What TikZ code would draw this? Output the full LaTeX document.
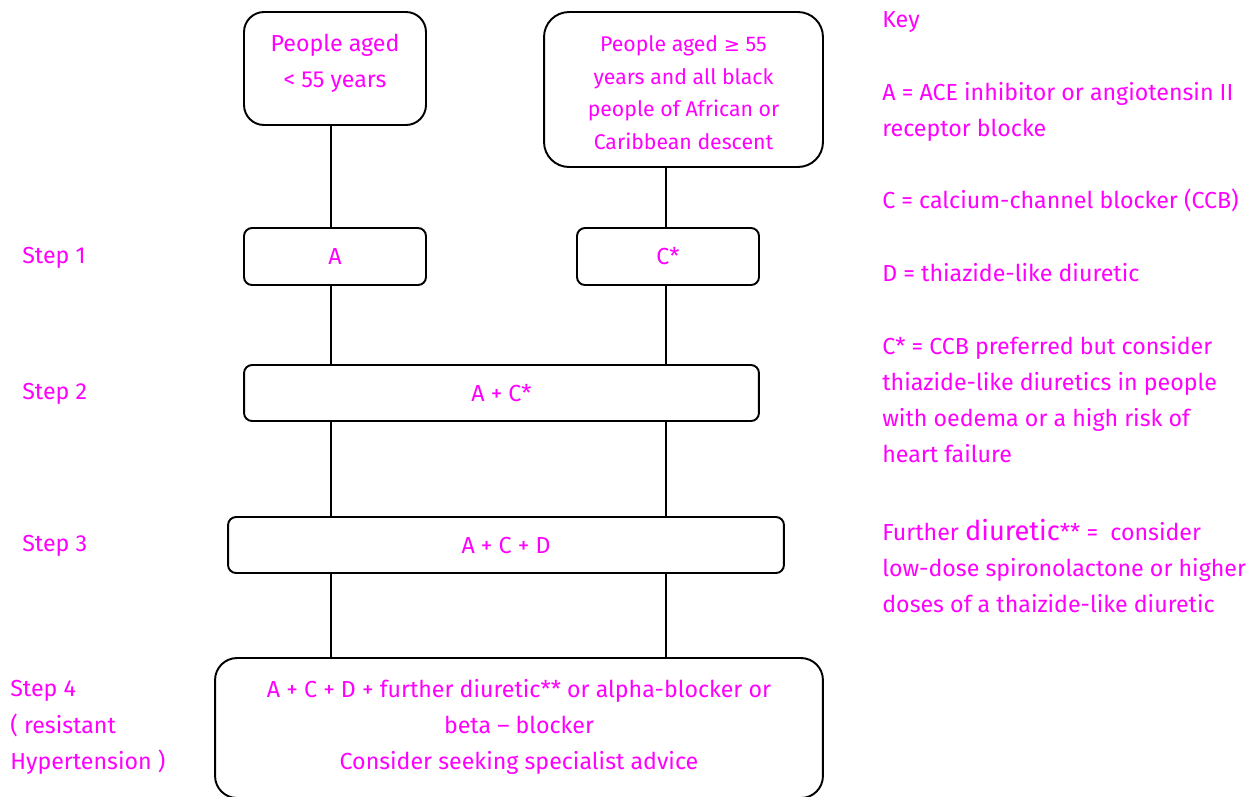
\documentclass[tikz,border=0pt]{standalone}
\usepackage{fontspec}
\setmainfont{Fira Sans}
\newfontfamily\symfont{DejaVu Sans}
\usetikzlibrary{calc}
\definecolor{mag}{HTML}{FF00FF}
\tikzset{
  bx/.style={draw=black, line width=1.1pt, inner sep=0pt},
  txt/.style={text=mag, font=\fontsize{13.2}{20.6}\selectfont, align=center, inner sep=0pt},
  lbl/.style={text=mag, font=\fontsize{13.2}{20.6}\selectfont, anchor=west, inner sep=0pt},
  conn/.style={draw=black, line width=1.1pt}
}
\begin{document}
\begin{tikzpicture}[x=0.02cm, y=-0.02cm]
\useasboundingbox (0,0) rectangle (1251,796);
% columns
\coordinate (cl) at (331,0);
\coordinate (cr) at (666,0);
% boxes
\node[bx, rounded corners=0.4cm, minimum width=3.64cm, minimum height=2.26cm] (b1) at (335,68.5) {};
\node[txt] (b1t) at (335,63) {People aged\\< 55 years};
\node[bx, rounded corners=0.5cm, minimum width=5.58cm, minimum height=3.1cm] (b2) at (683.5,89.5) {};
\node[txt, font=\fontsize{12.1}{18.6}\selectfont] (b2t) at (683.5,92.5) {People aged {\symfont\fontsize{11}{18}\selectfont ≥} 55\\years and all black\\people of African or\\Caribbean descent};
\node[bx, rounded corners=0.16cm, minimum width=3.64cm, minimum height=1.14cm] (sa) at (335,256.5) {};
\node[txt] at (sa) {A};
\node[bx, rounded corners=0.16cm, minimum width=3.64cm, minimum height=1.14cm] (sc) at (668,256.5) {};
\node[txt] at (sc) {C*};
\node[bx, rounded corners=0.16cm, minimum width=10.3cm, minimum height=1.12cm] (s2) at (501.5,393) {};
\node[txt] at (s2) {A + C*};
\node[bx, rounded corners=0.16cm, minimum width=11.12cm, minimum height=1.12cm] (s3) at (506,545) {};
\node[txt] at (s3) {A + C + D};
\node[bx, rounded corners=0.44cm, minimum width=12.16cm, minimum height=2.8cm] (s4) at (519,728) {};
\node[txt] (s4t) at (519,727) {A + C + D + further diuretic** or alpha-blocker or\\beta -- blocker\\Consider seeking specialist advice};
% connectors
\draw[conn] (b1.south -| cl) -- (sa.north -| cl);
\draw[conn] (b2.south -| cr) -- (sc.north -| cr);
\draw[conn] (sa.south -| cl) -- (s2.north -| cl);
\draw[conn] (sc.south -| cr) -- (s2.north -| cr);
\draw[conn] (s2.south -| cl) -- (s3.north -| cl);
\draw[conn] (s2.south -| cr) -- (s3.north -| cr);
\draw[conn] (s3.south -| cl) -- (s4.north -| cl);
\draw[conn] (s3.south -| cr) -- (s4.north -| cr);
% step labels
\node[lbl] (st1) at (22,258) {Step 1};
\node[lbl] (st2) at (22,394) {Step 2};
\node[lbl] (st3) at (22,546) {Step 3};
\node[lbl, align=left] (st4) at (10,727.5) {Step 4\\( resistant\\Hypertension )};
% key
\node[lbl] (k0) at (882,22) {Key};
\node[lbl, align=left] (k1) at (882,112) {A = ACE inhibitor or angiotensin II\\receptor blocke};
\node[lbl] (k2) at (882,200.5) {C = calcium-channel blocker (CCB)};
\node[lbl] (k3) at (882,272.5) {D = thiazide-like diuretic};
\node[lbl, align=left] (k4) at (882,399.5) {C* = CCB preferred but consider\\thiazide-like diuretics in people\\with oedema or a high risk of\\heart failure};
\node[lbl, align=left] (k5) at (882,566) {Further {\fontsize{15.5}{20.6}\selectfont diuretic}** = \ consider\\low-dose spironolactone or higher\\doses of a thaizide-like diuretic};
\end{tikzpicture}
\end{document}
